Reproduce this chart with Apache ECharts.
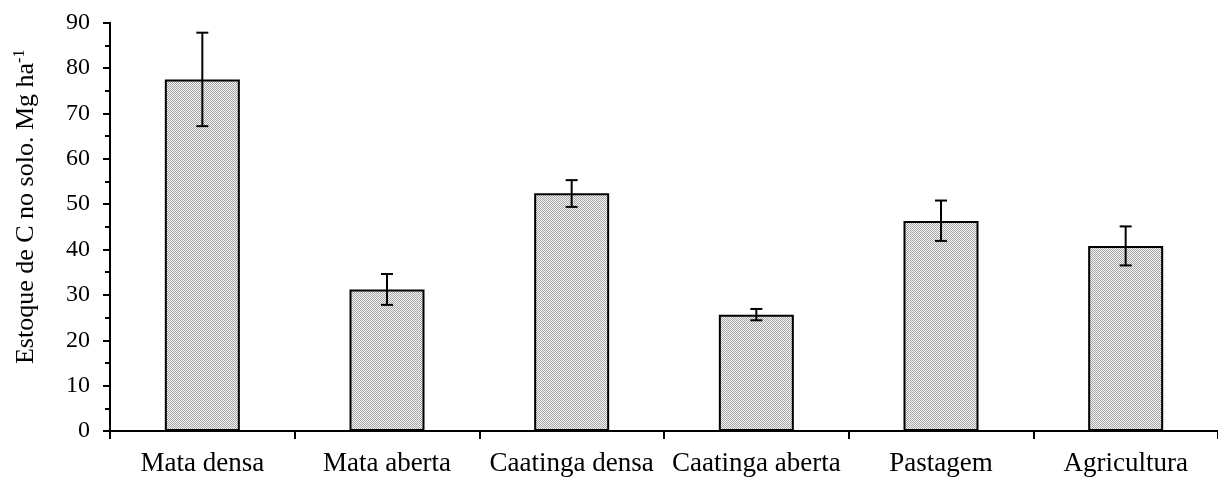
<!DOCTYPE html>
<html>
<head>
<meta charset="utf-8">
<script src="https://cdn.jsdelivr.net/npm/echarts@6/dist/echarts.min.js"></script>
<style>
html,body{margin:0;padding:0;background:#fff;}
#chart{width:1218px;height:478px;}
</style>
</head>
<body>
<div id="chart"></div>
<script>
const categories = ['Mata densa', 'Mata aberta', 'Caatinga densa', 'Caatinga aberta', 'Pastagem', 'Agricultura'];
const values = [77.5, 31.2, 52.4, 25.6, 46.3, 40.8];
const errLow = [67.2, 27.8, 49.4, 24.4, 41.9, 36.5];
const errHigh = [87.8, 34.6, 55.3, 26.9, 50.8, 45.1];
const yTicks = [0, 10, 20, 30, 40, 50, 60, 70, 80, 90];

const pc = document.createElement('canvas');
pc.width = 2; pc.height = 2;
const pctx = pc.getContext('2d');
pctx.fillStyle = '#f4f4f4'; pctx.fillRect(0, 0, 2, 2);
pctx.fillStyle = '#a6a6a6'; pctx.fillRect(0, 0, 1, 1); pctx.fillRect(1, 1, 1, 1);

const font = '"Liberation Serif", "Times New Roman", serif';
const chart = echarts.init(document.getElementById('chart'));
chart.setOption({
  animation: false,
  backgroundColor: '#fff',
  grid: { left: 110, top: 22.7, width: 1115, height: 408.3, containLabel: false },
  xAxis: {
    type: 'category',
    data: categories,
    boundaryGap: true,
    axisLine: { lineStyle: { color: '#000', width: 2 } },
    axisTick: { show: true, interval: 0, length: 8, lineStyle: { color: '#000', width: 2 } },
    axisLabel: { interval: 0, color: '#000', fontFamily: font, fontSize: 27, margin: 19 }
  },
  yAxis: {
    type: 'value',
    min: yTicks[0], max: yTicks[yTicks.length - 1], interval: 10,
    name: '{a|Estoque de C no solo. Mg ha}{s|-1}',
    nameLocation: 'middle',
    nameGap: 70,
    nameRotate: 90,
    nameTextStyle: {
      padding: [0, 0, 0, 40],
      rich: {
        a: { fontFamily: font, fontSize: 26, color: '#000' },
        s: { fontFamily: font, fontSize: 16, color: '#000', verticalAlign: 'top', padding: [0, 0, 12, 0] }
      }
    },
    axisLine: { show: true, lineStyle: { color: '#000', width: 2 } },
    axisTick: { show: true, length: 7, lineStyle: { color: '#000', width: 2 } },
    minorTick: { show: true, splitNumber: 2, length: 5, lineStyle: { color: '#000', width: 2 } },
    splitLine: { show: false },
    axisLabel: { color: '#000', fontFamily: font, fontSize: 24, margin: 20 }
  },
  series: [
    {
      type: 'bar',
      data: values,
      barWidth: 75,
      itemStyle: { color: { image: pc, repeat: 'repeat' }, borderColor: '#000', borderWidth: 2 }
    },
    {
      type: 'custom',
      data: categories.map((c, i) => [i, errLow[i], errHigh[i]]),
      renderItem: function (params, api) {
        const lo = api.coord([api.value(0), api.value(1)]);
        const hi = api.coord([api.value(0), api.value(2)]);
        const w = 6;
        const st = { stroke: '#000', lineWidth: 2 };
        return {
          type: 'group',
          children: [
            { type: 'line', shape: { x1: lo[0], y1: lo[1], x2: hi[0], y2: hi[1] }, style: st },
            { type: 'line', shape: { x1: lo[0] - w, y1: lo[1], x2: lo[0] + w, y2: lo[1] }, style: st },
            { type: 'line', shape: { x1: hi[0] - w, y1: hi[1], x2: hi[0] + w, y2: hi[1] }, style: st }
          ]
        };
      },
      z: 5
    }
  ]
});
</script>
</body>
</html>
